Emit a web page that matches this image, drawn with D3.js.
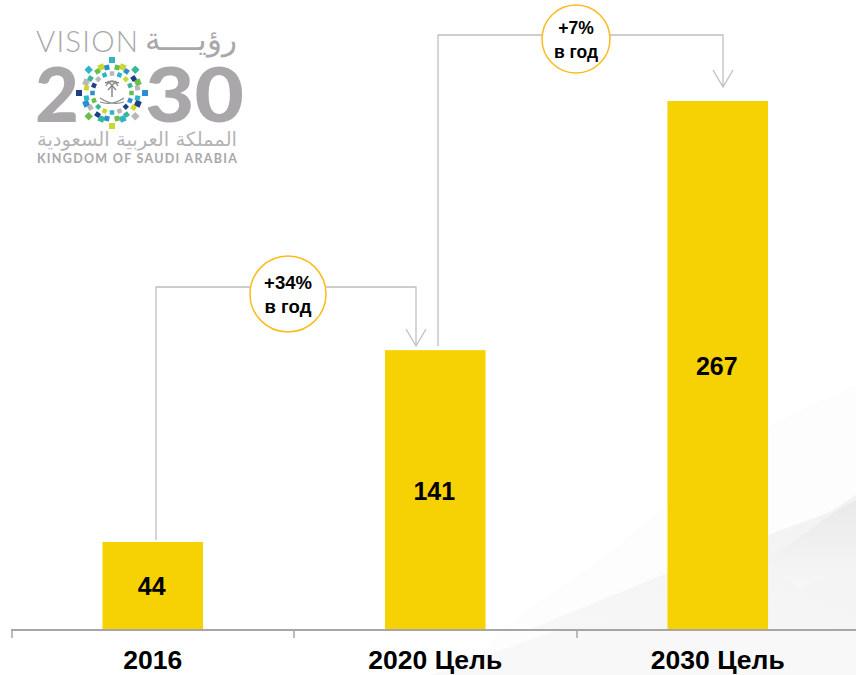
<!DOCTYPE html>
<html><head><meta charset="utf-8">
<script src="https://cdn.jsdelivr.net/npm/d3@7/dist/d3.min.js"></script>
<style>html,body{margin:0;padding:0;background:#fff}svg{display:block}text{font-family:"Liberation Sans",Arial,sans-serif}</style>
</head><body><script>
const categories = ["2016", "2020 Цель", "2030 Цель"];
const values = [44, 141, 267];
const growthTop = ["+34%", "+7%"];
const growthBottom = ["в год", "в год"];

const W = 856, H = 675, baseY = 629;
const svg = d3.select("body").append("svg").attr("width", W).attr("height", H);
const x = d3.scaleBand().domain(categories).range([11.5, 859]).paddingInner(0.644).paddingOuter(0.322);
const y = d3.scaleLinear().domain([0, 267]).range([baseY, 101]);

// background swoosh
const defs = svg.append("defs");
const g1 = defs.append("linearGradient").attr("id", "sw1").attr("x1", 0).attr("y1", 1).attr("x2", 1).attr("y2", 0);
g1.append("stop").attr("offset", 0).attr("stop-color", "#f7f7f7");
g1.append("stop").attr("offset", 1).attr("stop-color", "#f2f2f2");
const g2 = defs.append("linearGradient").attr("id", "sw2").attr("x1", 0).attr("y1", 0).attr("x2", 0).attr("y2", 1);
g2.append("stop").attr("offset", 0).attr("stop-color", "#e9e9e9");
g2.append("stop").attr("offset", 1).attr("stop-color", "#f7f7f7");
svg.append("path").attr("d", "M500,629 L600,560 L760,430 L856,385 L856,675 L470,675 Z").attr("fill", "#fdfdfd");
svg.append("path").attr("d", "M530,629 L670,572 L768,535 L830,512 L856,495 L856,629 Z").attr("fill", "url(#sw1)");
svg.append("path").attr("d", "M768,560 L830,515 L856,500 L856,560 L800,590 Z").attr("fill", "url(#sw2)");
svg.append("path").attr("d", "M430,675 L560,629 L856,629 L856,675 Z").attr("fill", "#f8f8f8");

// logo
const logo = svg.append("g").attr("fill", "#a9a7aa");
logo.append("text").attr("x", 36).attr("y", 52).attr("font-size", 29.5).attr("textLength", 102)
  .style("font-family", "Lato, sans-serif").style("font-weight", 300).text("VISION");
logo.append("text").attr("x", 237).attr("y", 50).attr("font-size", 31).attr("text-anchor", "start")
  .attr("direction", "rtl").style("font-family", "'Noto Sans', 'DejaVu Sans', sans-serif").style("font-weight", 300).text("رؤيــــة");
logo.append("text").attr("x", 35).attr("y", 122).attr("font-size", 76).attr("textLength", 44).attr("lengthAdjust", "spacingAndGlyphs")
  .style("font-family", "Lato, sans-serif").style("font-weight", 900).text("2");
logo.append("text").attr("x", 145).attr("y", 122).attr("font-size", 76).attr("textLength", 99).attr("lengthAdjust", "spacingAndGlyphs")
  .style("font-family", "Lato, sans-serif").style("font-weight", 900).text("30");
logo.append("text").attr("x", 237).attr("y", 146).attr("font-size", 19.5).attr("text-anchor", "start").attr("fill", "#b5b3b6")
  .attr("direction", "rtl").style("font-family", "'DejaVu Sans', sans-serif").text("المملكة العربية السعودية");
logo.append("text").attr("x", 37).attr("y", 163).attr("font-size", 12.5).attr("textLength", 200)
  .style("font-family", "Lato, sans-serif").style("font-weight", 700).text("KINGDOM OF SAUDI ARABIA");

const palette = ["#2fb4c8", "#1f3f80", "#6dbd4a", "#c9d830", "#b8b8b8", "#2a8fd0", "#35b89a"];
const cx = 112, cy = 93;
[[33, 16, 6], [26, 16, 5], [19.5, 16, 4.5]].forEach(([r, n, s], ri) => {
  d3.range(n).forEach(i => {
    const a = i / n * 2 * Math.PI + (ri === 1 ? Math.PI / n : 0);
    const rr = ri === 0 ? (i % 2 ? r - 5 : r) : r;
    const px = cx + rr * Math.sin(a), py = cy - rr * Math.cos(a);
    logo.append("rect").attr("x", -s / 2).attr("y", -s / 2).attr("width", s).attr("height", s)
      .attr("transform", `translate(${px},${py}) rotate(${a * 180 / Math.PI})`)
      .attr("fill", palette[(i * 3 + ri * 2) % palette.length]);
  });
});
// palm and swords
const emblem = svg.append("g").attr("fill", "none").attr("stroke", "#8a8a8a");
emblem.append("path").attr("d", "M112,86 V97").attr("stroke-width", 1.5);
emblem.append("path").attr("d", "M106,86 Q112,76 118,86 M105,83 Q112,80 119,83 M108,81 L116,90 M116,81 L108,90").attr("stroke-width", 1.4);
emblem.append("path").attr("d", "M100,98 Q112,106 124,102 M124,98 Q112,106 100,102").attr("stroke-width", 1.2);

// axis
const axisLine = svg.append("g").attr("stroke", "#a6a6a6").attr("stroke-width", 2).attr("fill", "none");
axisLine.append("line").attr("x1", 11).attr("x2", 856).attr("y1", baseY + 1).attr("y2", baseY + 1);
categories.forEach(c => {
  const tx = Math.round(x(c) - x.step() * x.paddingInner() / 2);
  axisLine.append("line").attr("x1", tx).attr("x2", tx).attr("y1", baseY).attr("y2", baseY + 9).attr("stroke-width", 1.5);
});

// bars
svg.selectAll("rect.bar").data(categories).join("rect").attr("class", "bar")
  .attr("x", d => x(d)).attr("width", x.bandwidth())
  .attr("y", (d, i) => y(values[i])).attr("height", (d, i) => baseY - y(values[i]))
  .attr("fill", "#f6d205");

// value labels
const labelY = [595, 500, 375];
svg.selectAll("text.val").data(categories).join("text").attr("class", "val")
  .attr("x", d => x(d) + x.bandwidth() / 2 - 1).attr("y", (d, i) => labelY[i])
  .attr("text-anchor", "middle").attr("font-size", 25).attr("font-weight", 700).attr("fill", "#000")
  .text((d, i) => values[i]);

// category labels
svg.selectAll("text.cat").data(categories).join("text").attr("class", "cat")
  .attr("x", d => x(d) + x.bandwidth() / 2).attr("y", 669)
  .attr("text-anchor", "middle").attr("font-size", 26.5).attr("font-weight", 700).attr("fill", "#000")
  .text(d => d);

// growth connectors
const conn = [
  { fx: 156, tx: 416, topY: 287, endY: 346, startY: 540, cx: 288, cy: 294, r: 38, fs: 18.5 },
  { fx: 438, tx: 723, topY: 35, endY: 87, startY: 346, cx: 576, cy: 39, r: 34, fs: 17.5 }
];
conn.forEach((c, i) => {
  const g = svg.append("g");
  g.append("path").attr("fill", "none").attr("stroke", "#bfbfbf").attr("stroke-width", 1.3)
    .attr("d", `M${c.fx},${c.startY} V${c.topY} H${c.tx} V${c.endY}`);
  g.append("path").attr("fill", "none").attr("stroke", "#bfbfbf").attr("stroke-width", 1.3)
    .attr("d", `M${c.tx - 10},${c.endY - 17} L${c.tx},${c.endY} L${c.tx + 10},${c.endY - 17}`);
  g.append("circle").attr("cx", c.cx).attr("cy", c.cy).attr("r", c.r)
    .attr("fill", "#fff").attr("stroke", "#fbbb1c").attr("stroke-width", 1.5);
  g.append("text").attr("x", c.cx).attr("y", c.cy - 5).attr("text-anchor", "middle")
    .attr("font-size", c.fs).attr("font-weight", 700).text(growthTop[i]);
  g.append("text").attr("x", c.cx).attr("y", c.cy + 19).attr("text-anchor", "middle")
    .attr("font-size", c.fs).attr("font-weight", 700).text(growthBottom[i]);
});
</script></body></html>
